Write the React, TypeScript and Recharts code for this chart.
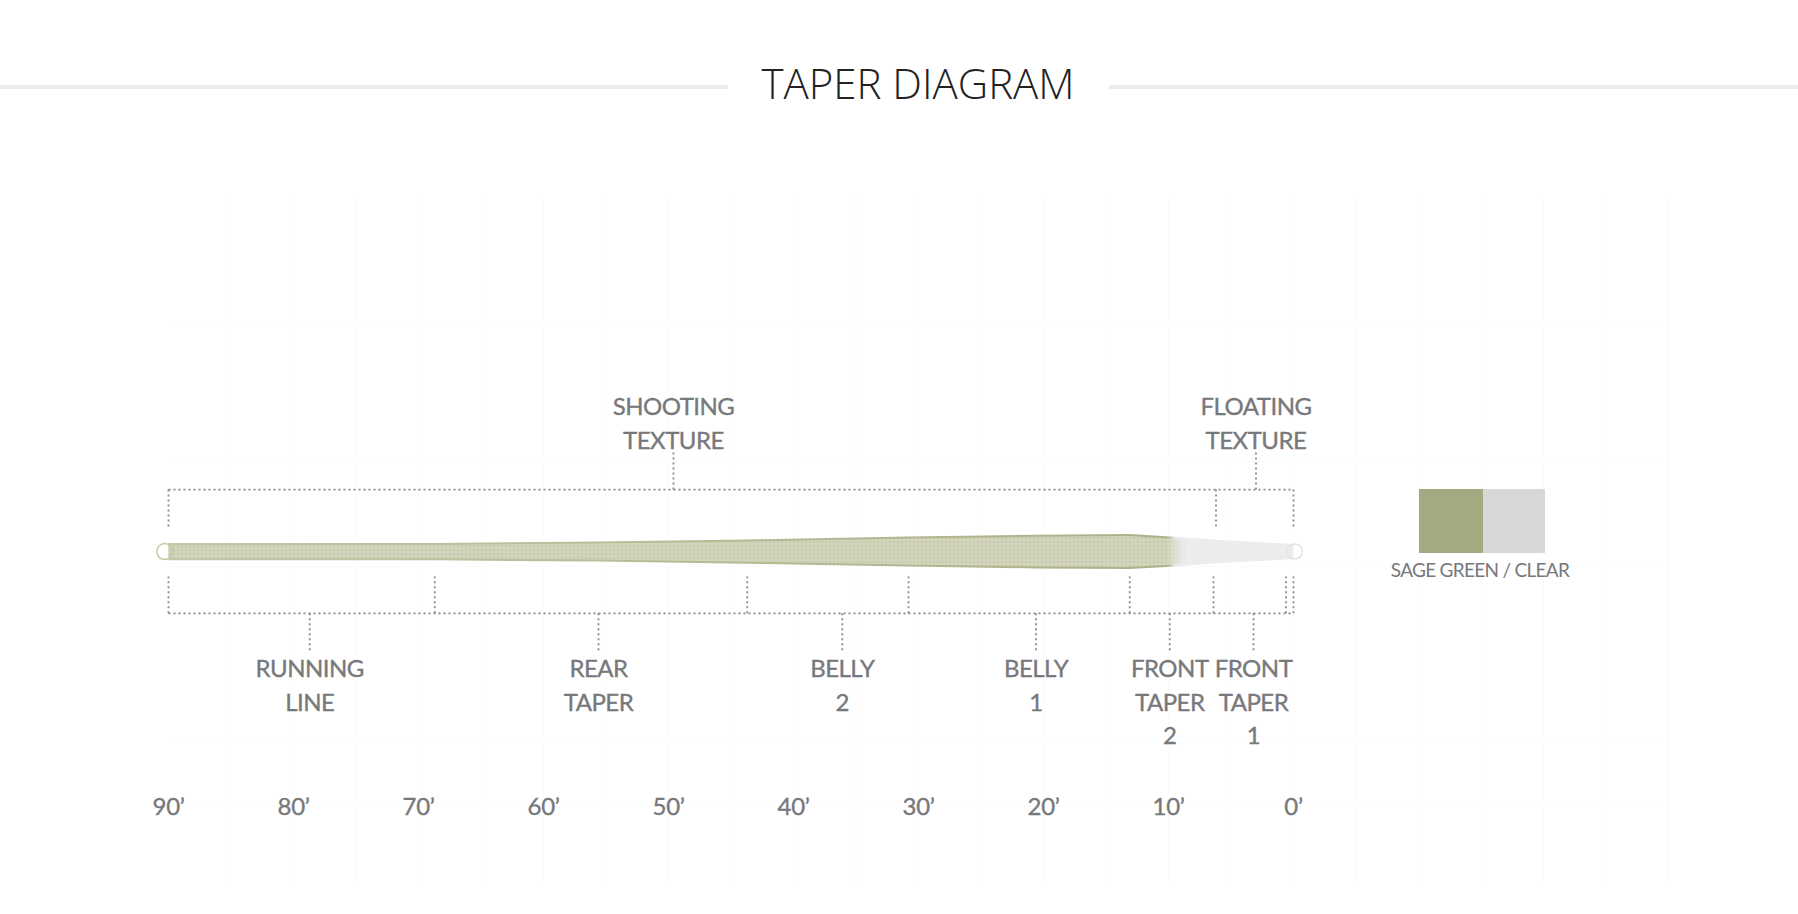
import {
  Area,
  CartesianGrid,
  ComposedChart,
  ReferenceDot,
  ReferenceLine,
  XAxis,
  YAxis,
} from "recharts";

// distance from the tip in feet, line radius
const taperFeet = [90, 68.7, 55.6, 43.7, 30.8, 20.6, 13.1, 10.2, 8.7, 6.4, 0.6, 0];
const taperRadius = [8.7, 8.7, 10, 12.2, 15, 16.8, 17.5, 15.4, 14.2, 12, 8, 7.5];

const axisFeet = [90, 80, 70, 60, 50, 40, 30, 20, 10, 0];
const gridFeet = [
  85, 80, 75, 70, 65, 60, 55, 50, 45, 40, 35, 30, 25, 20, 15, 10, 5, 0, -5, -10,
  -15, -20, -25, -30,
];

const topBracketFeet = [90, 6.2, 0];
const bottomBracketFeet = [90, 68.7, 43.7, 30.8, 13.1, 6.4, 0.6, 0];

const topCallouts = [
  { feet: 49.6, lines: ["SHOOTING", "TEXTURE"] },
  { feet: 3, lines: ["FLOATING", "TEXTURE"] },
];
const bottomCallouts = [
  { feet: 78.7, lines: ["RUNNING", "LINE"] },
  { feet: 55.6, lines: ["REAR", "TAPER"] },
  { feet: 36.1, lines: ["BELLY", "2"] },
  { feet: 20.6, lines: ["BELLY", "1"] },
  { feet: 9.9, lines: ["FRONT", "TAPER", "2"] },
  { feet: 3.2, lines: ["FRONT", "TAPER", "1"] },
];

const swatches = [
  { color: "#a5a981", width: 64 },
  { color: "#d7d8da", width: 62 },
];
const swatchLabel = "SAGE GREEN / CLEAR";

const taperData = taperFeet.map((feet, i) => ({
  feet,
  outer: [-taperRadius[i], taperRadius[i]],
  inner: feet >= 8.7 ? [2 - taperRadius[i], taperRadius[i] - 2] : null,
  fade:
    feet >= 8.7 && feet <= 10.2 ? [-taperRadius[i] - 0.5, taperRadius[i] + 0.5] : null,
}));

const LABEL_FONT = "Lato, sans-serif";
const LABEL_COLOR = "#77787b";
const DASH = { stroke: "#88898b", strokeWidth: 1.8, strokeDasharray: "2 3" };

const segment = (x1: number, y1: number, x2: number, y2: number, key: string) => (
  <ReferenceLine
    key={key}
    segment={[
      { x: x1, y: y1 },
      { x: x2, y: y2 },
    ]}
    {...DASH}
  />
);

const labelShape = (lines: string[]) => (props: any) => (
  <text
    x={props.cx}
    y={props.cy}
    textAnchor="middle"
    fontFamily={LABEL_FONT}
    fontSize={24}
    letterSpacing={-0.5}
    fill={LABEL_COLOR}
    stroke={LABEL_COLOR}
    strokeWidth={0.35}
  >
    {lines.map((line, i) => (
      <tspan key={i} x={props.cx} dy={i === 0 ? 0 : 33.5}>
        {line}
      </tspan>
    ))}
  </text>
);

const FeetTick = (props: any) => (
  <text
    x={props.x}
    y={815}
    textAnchor="middle"
    fontFamily={LABEL_FONT}
    fontSize={24}
    letterSpacing={-0.4}
    fill={LABEL_COLOR}
    stroke={LABEL_COLOR}
    strokeWidth={0.35}
  >
    {props.payload.value}’
  </text>
);

export default function App() {
  return (
    <div
      style={{
        position: "absolute",
        left: 0,
        top: 0,
        width: 1798,
        height: 914,
        background: "#fff",
        overflow: "hidden",
      }}
    >
      <div
        style={{
          position: "absolute",
          left: 0,
          width: 728,
          top: 85,
          height: 4,
          background: "#ececec",
        }}
      />
      <div
        style={{
          position: "absolute",
          left: 1109,
          width: 689,
          top: 85,
          height: 4,
          background: "#ececec",
        }}
      />
      <div
        style={{
          position: "absolute",
          left: 1,
          width: 1834,
          top: 53,
          textAlign: "center",
          fontFamily: "'Open Sans', sans-serif",
          fontWeight: 300,
          fontSize: 42,
          lineHeight: "60px",
          color: "#222",
        }}
      >
        TAPER DIAGRAM
      </div>

      <div style={{ position: "absolute", left: 0, top: 0 }}>
        <ComposedChart
          width={1798}
          height={914}
          data={taperData}
          margin={{ top: 195.6, right: 129.5, bottom: 29.4, left: 168.5 }}
        >
          <defs>
            <linearGradient id="taperOuter" x1="0" y1="0" x2="1" y2="0">
              <stop offset="0%" stopColor="#c4c7a6" />
              <stop offset="45%" stopColor="#b8bb96" />
              <stop offset="89%" stopColor="#adb189" />
              <stop offset="89.5%" stopColor="#ececee" />
              <stop offset="100%" stopColor="#ececee" />
            </linearGradient>
            <linearGradient id="taperFade" x1="0" y1="0" x2="1" y2="0">
              <stop offset="0%" stopColor="#ececee" stopOpacity={0} />
              <stop offset="100%" stopColor="#ececee" stopOpacity={1} />
            </linearGradient>
            <pattern id="taperDots" width="4" height="4" patternUnits="userSpaceOnUse">
              <rect width="4" height="4" fill="#d2d5bb" />
              <circle cx="2" cy="2" r="1" fill="#c2c6a6" />
            </pattern>
          </defs>
          <CartesianGrid
            stroke="#fbfbfb"
            verticalValues={gridFeet}
            horizontalValues={[230, 90, -15, -185, -255]}
          />
          <XAxis
            type="number"
            dataKey="feet"
            domain={[-30, 90]}
            reversed
            ticks={axisFeet}
            interval={0}
            height={1}
            axisLine={false}
            tickLine={false}
            tick={FeetTick}
          />
          <YAxis type="number" hide domain={[-332, 356]} />

          <ReferenceDot
            x={90.3}
            y={0}
            r={8}
            fill="none"
            stroke="#c4c7a6"
            strokeWidth={1.5}
            ifOverflow="visible"
          />
          <ReferenceDot
            x={-0.1}
            y={0}
            r={7.5}
            fill="none"
            stroke="#e2e2e4"
            strokeWidth={1.5}
          />

          <Area
            dataKey="outer"
            type="linear"
            stroke="none"
            fill="url(#taperOuter)"
            fillOpacity={1}
            dot={false}
            activeDot={false}
            isAnimationActive={false}
          />
          <Area
            dataKey="inner"
            type="linear"
            stroke="none"
            fill="url(#taperDots)"
            fillOpacity={1}
            dot={false}
            activeDot={false}
            isAnimationActive={false}
          />
          <Area
            dataKey="fade"
            type="linear"
            stroke="none"
            fill="url(#taperFade)"
            fillOpacity={1}
            dot={false}
            activeDot={false}
            isAnimationActive={false}
          />

          {/* top bracket, y values are px above the line centre */}
          {segment(90, 62, 0, 62, "top-rail")}
          {topBracketFeet.map((f) => segment(f, 62, f, 24, `top-${f}`))}
          {topCallouts.map((c) => segment(c.feet, 62, c.feet, 100, `top-c-${c.feet}`))}
          {topCallouts.map((c) => (
            <ReferenceDot
              key={c.feet}
              x={c.feet}
              y={136.6}
              r={0}
              shape={labelShape(c.lines)}
            />
          ))}

          {/* bottom bracket */}
          {segment(90, -61.7, 0, -61.7, "bottom-rail")}
          {bottomBracketFeet.map((f) => segment(f, -61.7, f, -25, `bottom-${f}`))}
          {bottomCallouts.map((c) =>
            segment(c.feet, -61.7, c.feet, -100, `bottom-c-${c.feet}`)
          )}
          {bottomCallouts.map((c) => (
            <ReferenceDot
              key={c.feet}
              x={c.feet}
              y={-125.4}
              r={0}
              shape={labelShape(c.lines)}
            />
          ))}
        </ComposedChart>
      </div>

      <div
        style={{
          position: "absolute",
          left: 1419,
          top: 489,
          height: 64,
          display: "flex",
        }}
      >
        {swatches.map((s) => (
          <div key={s.color} style={{ width: s.width, background: s.color }} />
        ))}
      </div>
      <div
        style={{
          position: "absolute",
          left: 1380,
          width: 200,
          top: 558,
          textAlign: "center",
          fontFamily: LABEL_FONT,
          fontSize: 19,
          lineHeight: "24px",
          letterSpacing: -0.7,
          color: LABEL_COLOR,
          whiteSpace: "nowrap",
        }}
      >
        {swatchLabel}
      </div>
    </div>
  );
}
